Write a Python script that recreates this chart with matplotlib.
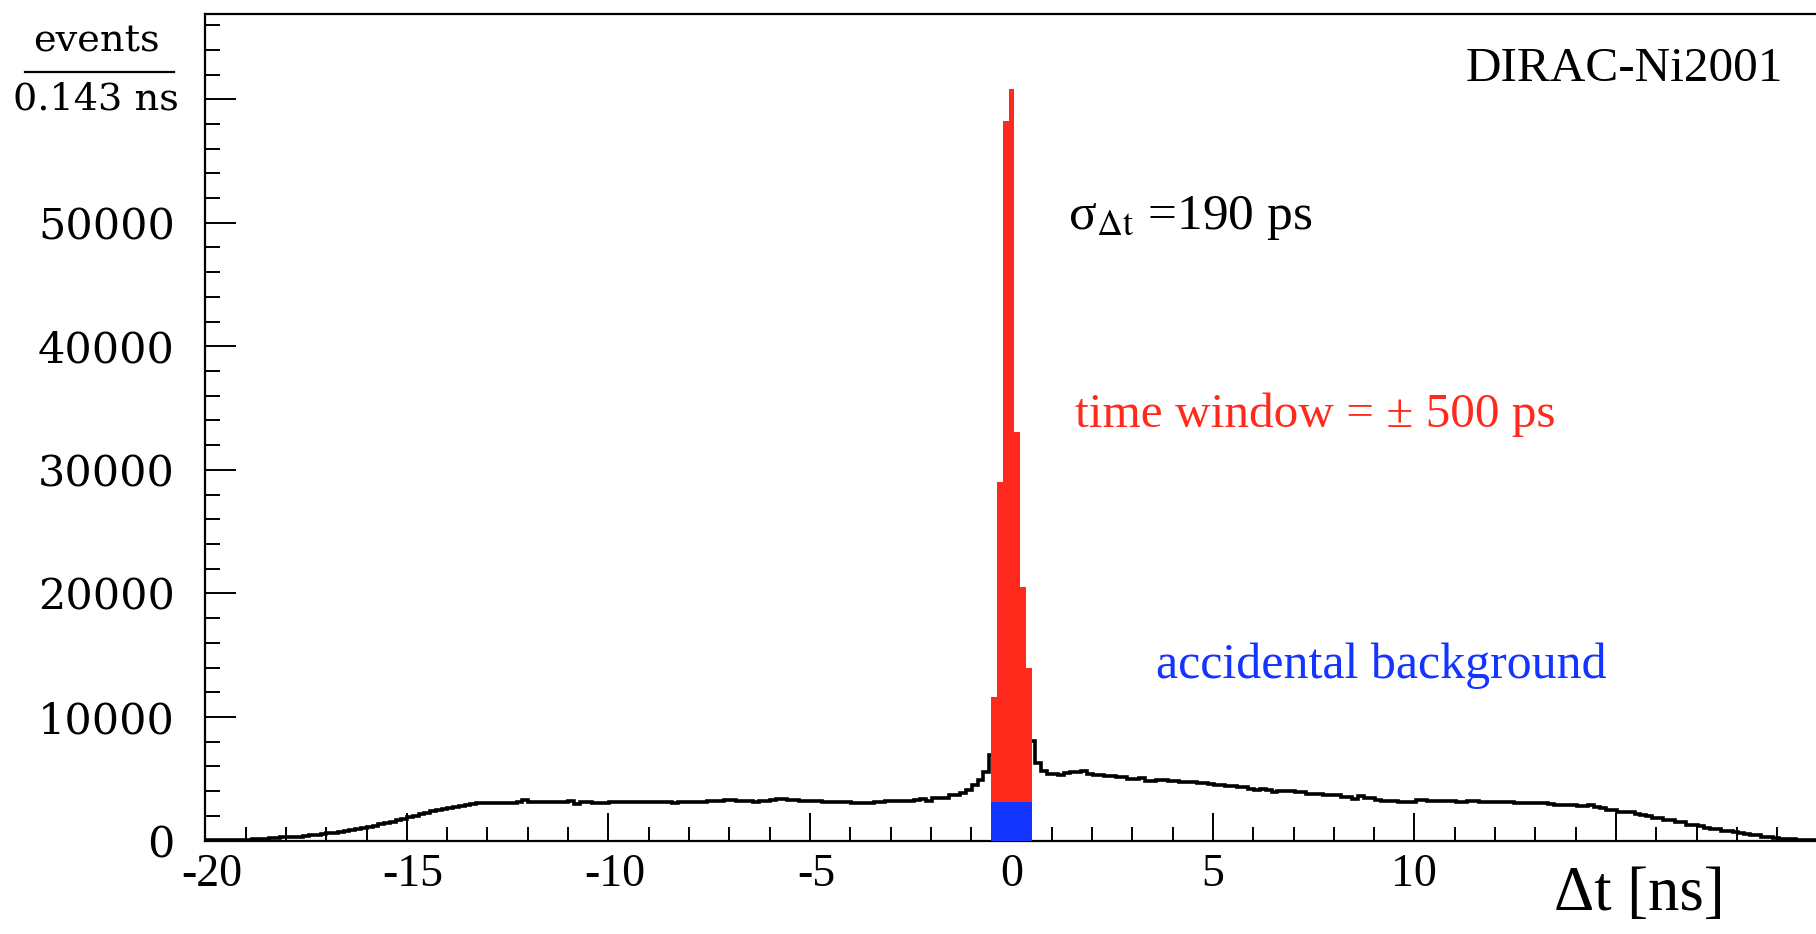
import numpy as np
import matplotlib
matplotlib.use("Agg")
import matplotlib.pyplot as plt
import matplotlib.transforms as mtransforms
from matplotlib.lines import Line2D

plt.rcParams['font.family'] = ['Liberation Serif', 'DejaVu Serif']
plt.rcParams['mathtext.fontset'] = 'stix'

# histogram of all events, 280 bins of 0.143 ns starting at -20 ns
bin_width = 0.143
t_start = -20.0
counts = [
    5, 10, 20, 40, 50, 60, 60,
    80, 100, 110, 150, 180, 220, 250,
    270, 300, 320, 360, 420, 480, 520,
    590, 640, 700, 780, 850, 920, 1000,
    1100, 1200, 1300, 1400, 1500, 1620, 1750,
    1880, 2000, 2130, 2250, 2380, 2480, 2580,
    2650, 2750, 2800, 2880, 2940, 3000, 3020,
    3030, 3030, 3040, 3040, 3050, 3150, 3240,
    3100, 3100, 3130, 3130, 3110, 3110, 3110,
    3160, 2940, 3080, 3080, 3070, 3025, 3050,
    3110, 3100, 3090, 3110, 3100, 3080, 3100,
    3090, 3080, 3080, 3090, 3070, 3080, 3080,
    3080, 3100, 3110, 3160, 3160, 3200, 3240,
    3240, 3220, 3160, 3160, 3150, 3160, 3160,
    3300, 3350, 3350, 3240, 3240, 3200, 3160,
    3160, 3160, 3080, 3080, 3080, 3100, 3100,
    3025, 3025, 3025, 3025, 3100, 3100, 3160,
    3160, 3160, 3160, 3160, 3250, 3350, 3160,
    3430, 3420, 3450, 3680, 3700, 3840, 4100,
    4510, 4920, 5540, 6940, 11000, 28000, 57000,
    32000, 19000, 13500, 8020, 6270, 5590, 5400,
    5400, 5320, 5460, 5540, 5540, 5590, 5400,
    5320, 5320, 5190, 5190, 5130, 5130, 4970,
    4970, 5050, 4830, 4830, 4920, 4920, 4780,
    4780, 4700, 4700, 4700, 4650, 4650, 4570,
    4460, 4460, 4380, 4380, 4300, 4300, 4190,
    4100, 4160, 4050, 3890, 3970, 3970, 3970,
    3890, 3890, 3780, 3780, 3760, 3700, 3700,
    3650, 3510, 3510, 3350, 3565, 3430, 3430,
    3295, 3160, 3160, 3160, 3100, 3100, 3100,
    3240, 3240, 3160, 3160, 3210, 3210, 3210,
    3100, 3100, 3210, 3210, 3100, 3100, 3100,
    3130, 3130, 3130, 3025, 3025, 3025, 3025,
    3025, 3025, 2970, 2890, 2890, 2890, 2890,
    2810, 2810, 2870, 2750, 2620, 2450, 2485,
    2270, 2270, 2300, 2160, 2100, 2000, 1810,
    1810, 1675, 1675, 1485, 1485, 1270, 1270,
    1135, 1050, 945, 945, 783, 783, 680,
    594, 540, 405, 405, 270, 270, 190,
    135, 135, 110, 54, 54, 54, 40,
]

# events inside the +-500 ps time window (7 bins)
window_lo = -0.5
window_hi = 0.5
window_counts = [11600, 29000, 58200, 60800, 33100, 20500, 14000]
background_level = 3100

red = '#ff2a1c'
blue = '#1434ff'
wide_font = 'DejaVu Serif'

edges = t_start + bin_width * np.arange(len(counts) + 1)
w_edges = np.linspace(window_lo, window_hi, len(window_counts) + 1)

fig = plt.figure(figsize=(18.16, 9.34), dpi=100)
ax = fig.add_axes([205.4 / 1816, 93.5 / 934, 1612 / 1816, 826.5 / 934])

ax.stairs(counts, edges, color='black', lw=2.6, zorder=2)
ax.bar(w_edges[:-1], window_counts, width=np.diff(w_edges), align='edge',
       color=red, lw=0, zorder=3)
ax.bar(window_lo, background_level, width=window_hi - window_lo, align='edge',
       color=blue, lw=0, zorder=4)

ax.set_xlim(-20, 20)
ax.set_ylim(0, 66900)

ax.spines['right'].set_visible(False)
for s in ['left', 'bottom', 'top']:
    ax.spines[s].set_linewidth(1.6)

ax.set_xticks(np.arange(-20, 21, 5))
ax.set_xticklabels(['-20', '-15', '-10', '-5', '0', '5', '10', '', ''])
ax.set_xticks(np.arange(-20, 21, 1), minor=True)
ax.set_yticks(np.arange(0, 60001, 10000))
ax.set_yticklabels(['0', '10000', '20000', '30000', '40000', '50000', ''])
ax.set_yticks(np.arange(0, 66001, 2000), minor=True)

ax.tick_params(axis='x', which='major', direction='in', length=20, width=1.4,
               labelsize=33, pad=9)
ax.tick_params(axis='x', which='minor', direction='in', length=10, width=1.4)
ax.tick_params(axis='y', which='major', direction='in', length=22, width=1.4,
               labelsize=31, pad=22)
ax.tick_params(axis='y', which='minor', direction='in', length=11, width=1.4)
for lab in ax.get_yticklabels():
    lab.set_family(wide_font)
# negative labels sit a little to the right, digits centred on the tick
shift = mtransforms.ScaledTranslation(6 / 100, 0, fig.dpi_scale_trans)
for lab in ax.get_xticklabels():
    if lab.get_text().startswith('-'):
        lab.set_transform(lab.get_transform() + shift)

# y-axis title as a fraction
fig.text(96 / 1816, 1 - 42 / 934, 'events', ha='center', va='center',
         fontsize=27.5, family=wide_font)
fig.add_artist(Line2D([25 / 1816, 174 / 1816], [1 - 72 / 934, 1 - 72 / 934],
                      color='black', lw=1.6))
fig.text(96 / 1816, 1 - 99 / 934, '0.143 ns', ha='center', va='center',
         fontsize=27.5, family=wide_font)

fig.text(1725 / 1816, 1 - 895 / 934, '\u0394t [ns]', ha='right', va='center',
         fontsize=45)

fig.text(1783 / 1816, 1 - 69 / 934, 'DIRAC-Ni2001', ha='right', va='center',
         fontsize=35.5)
fig.text(1068 / 1816, 1 - 218 / 934, '\u03c3$_{\\Delta \\mathrm{t}}$ =190 ps',
         ha='left', va='center', fontsize=37)
fig.text(1075 / 1816, 1 - 415 / 934, 'time window = \u00b1 500 ps', ha='left',
         va='center', fontsize=35.5, color=red)
fig.text(1156 / 1816, 1 - 666 / 934, 'accidental background', ha='left',
         va='center', fontsize=36, color=blue)

fig.savefig('out.png', dpi=100)
